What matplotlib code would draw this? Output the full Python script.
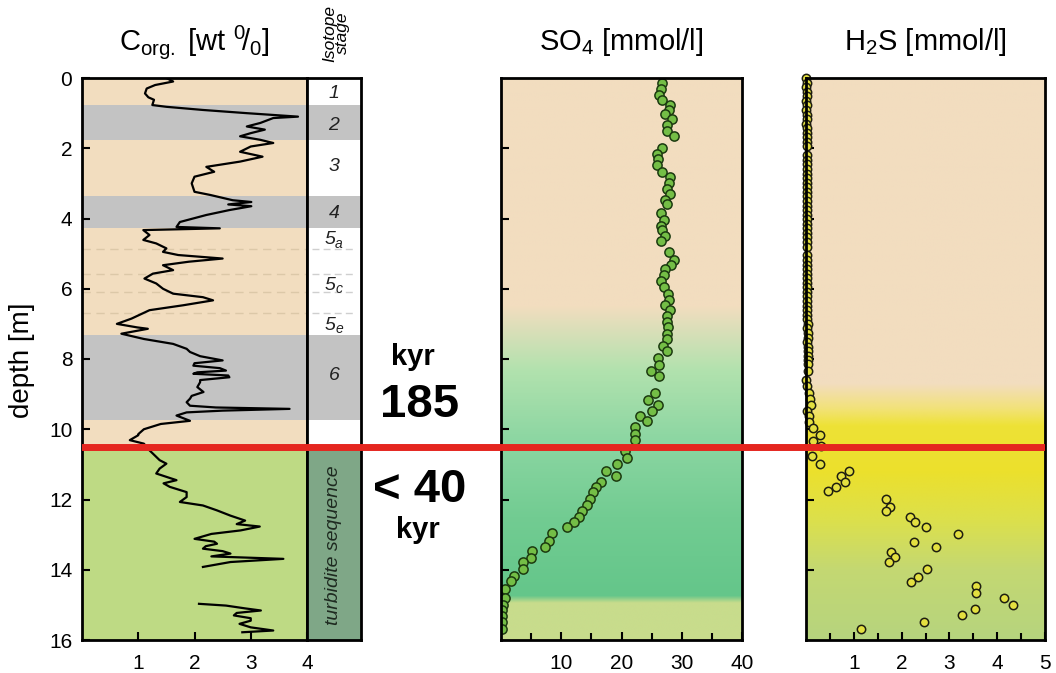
import matplotlib
matplotlib.use('Agg')
import matplotlib.pyplot as plt
import numpy as np

plt.rcParams['font.family'] = ['Liberation Sans', 'DejaVu Sans']
plt.rcParams['mathtext.fontset'] = 'custom'
plt.rcParams['mathtext.rm'] = 'Liberation Sans'
plt.rcParams['mathtext.it'] = 'Liberation Sans:italic'
plt.rcParams['mathtext.bf'] = 'Liberation Sans:bold'

# ---------------- data ----------------
corg_depth = [0.0, 0.1, 0.2, 0.3, 0.44, 0.55, 0.62, 0.77, 0.82, 0.91, 1.0, 1.1, 1.14, 1.28, 1.38, 1.47,
              1.57, 1.66, 1.76, 1.85, 1.95, 2.1, 2.24, 2.38, 2.53, 2.67, 2.81, 3.0, 3.24, 3.33, 3.48,
              3.53, 3.6, 3.65, 3.76, 3.9, 4.1, 4.24, 4.28, 4.33, 4.47, 4.61, 4.71, 4.85, 4.95, 5.04,
              5.14, 5.23, 5.33, 5.47, 5.57, 5.71, 5.85, 6.0, 6.14, 6.24, 6.33, 6.47, 6.61, 6.76, 6.85,
              7.0, 7.1, 7.14, 7.28, 7.43, 7.57, 7.71, 7.8, 7.92, 8.04, 8.12, 8.19, 8.26, 8.33, 8.38,
              8.42, 8.47, 8.52, 8.6, 8.66, 8.8, 8.94, 9.05, 9.13, 9.23, 9.33, 9.38, 9.42, 9.47, 9.52,
              9.61, 9.76, 9.85, 10.0, 10.14, 10.17, 10.31, 10.41, 10.6, 10.88, 10.98, 11.12, 11.26,
              11.45, 11.54, 11.64, 11.79, 11.93, 12.07, 12.17, 12.31, 12.46, 12.6, 12.7, 12.77, 12.88,
              12.98, 13.12, 13.2, 13.26, 13.33, 13.4, 13.47, 13.54, 13.62, 13.69, 13.78, 13.92,
              14.4,
              14.97, 15.02, 15.1, 15.16, 15.23, 15.3, 15.38, 15.45, 15.54, 15.64, 15.73, 15.78]
corg_value = [1.5, 1.62, 1.3, 1.15, 1.12, 1.18, 1.28, 1.25, 1.5, 2.15, 2.92, 3.84, 3.4, 3.17, 2.93, 3.25,
              3.0, 2.81, 3.17, 3.4, 3.0, 2.81, 3.21, 2.81, 2.21, 2.35, 2.0, 1.95, 2.0, 2.28, 2.68,
              3.01, 2.6, 3.01, 2.62, 2.21, 1.74, 1.68, 2.45, 1.09, 1.2, 1.09, 1.32, 1.5, 1.44, 1.71,
              2.5, 1.9, 1.44, 1.62, 1.26, 1.11, 1.32, 1.44, 1.62, 2.15, 2.33, 1.8, 1.2, 1.0, 0.88,
              0.62, 0.98, 1.17, 0.7, 1.1, 1.62, 1.86, 1.92, 2.1, 2.5, 2.0, 1.98, 2.45, 2.56, 2.05,
              1.98, 2.6, 2.62, 2.1, 2.1, 2.05, 2.16, 1.95, 1.92, 1.86, 1.92, 2.38, 3.69, 2.5, 1.86,
              1.68, 1.92, 1.4, 1.1, 1.0, 1.0, 0.85, 1.1, 1.2, 1.38, 1.5, 1.38, 1.32,
              1.68, 1.45, 1.56, 1.86, 1.86, 1.74, 2.15, 2.4, 2.64, 2.9, 2.75, 3.16, 2.82,
              2.3, 2.0, 2.35, 2.4, 2.2, 2.15, 2.5, 2.64, 2.3, 3.58, 2.64, 2.15,
              np.nan,
              2.08, 2.56, 2.9, 3.18, 2.75, 2.7, 3.0, 3.0, 2.8, 3.0, 3.4, 2.85]

so4_depth = [0.15, 0.32, 0.49, 0.63, 0.77, 0.91, 1.03, 1.18, 1.34, 1.5, 1.66, 1.98, 2.15, 2.32, 2.49,
             2.68, 2.82, 2.99, 3.15, 3.31, 3.47, 3.6, 3.85, 4.04, 4.2, 4.34, 4.49, 4.65, 4.96, 5.18,
             5.31, 5.44, 5.6, 5.77, 5.96, 6.15, 6.32, 6.46, 6.61, 6.77, 6.96, 7.1, 7.28, 7.44, 7.63,
             7.77, 7.96, 8.17, 8.34, 8.49, 8.96, 9.18, 9.32, 9.49, 9.63, 9.77, 9.94, 10.13, 10.32,
             10.63, 10.82, 10.99, 11.18, 11.34, 11.49, 11.63, 11.79, 11.98, 12.17, 12.32, 12.49,
             12.63, 12.77, 12.96, 13.17, 13.34, 13.47, 13.66, 13.77, 13.99, 14.18, 14.32, 14.56,
             14.8, 15.01, 15.15, 15.31, 15.49, 15.68]
so4_value = [26.8, 26.5, 26.2, 26.8, 28.05, 27.9, 27.2, 28.3, 27.5, 27.6, 28.7, 26.8, 25.9, 26.05, 25.9,
             26.8, 28.05, 27.9, 27.6, 28.05, 27.3, 27.6, 26.5, 27.05, 26.6, 26.8, 27.3, 26.5, 27.9, 28.7,
             28.2, 27.3, 27.05, 26.5, 27.05, 27.7, 27.9, 27.2, 28.05, 27.5, 27.6, 27.7, 27.6, 27.6, 26.9,
             27.6, 26.05, 26.2, 24.9, 26.3, 25.5, 24.4, 26.05, 25.1, 23.05, 24.3, 22.3, 22.3, 22.2,
             20.5, 20.9, 19.2, 17.5, 19.1, 16.6, 15.7, 15.3, 14.7, 14.2, 13.4, 12.9,
             12.05, 10.9, 8.4, 8.0, 7.3, 5.2, 4.9, 3.7, 3.6, 2.2, 1.6, 0.67,
             0.67, 0.4, 0.1, 0.1, 0.1, 0.2]

h2s_depth = [0.0, 0.13, 0.26, 0.39, 0.52, 0.65, 0.78, 0.91, 1.04, 1.17, 1.3, 1.43, 1.56, 1.69, 1.82,
             1.95, 2.2, 2.33, 2.46, 2.59, 2.72, 2.85, 2.98, 3.11, 3.24, 3.37, 3.5, 3.63, 3.76, 3.89,
             4.02, 4.15, 4.28, 4.41, 4.54, 4.67, 4.8, 5.05, 5.18, 5.31, 5.44, 5.57, 5.7, 5.83, 5.96,
             6.09, 6.22, 6.35, 6.48, 6.61, 6.74, 6.87, 7.0, 7.13, 7.26, 7.39, 7.52, 7.65, 7.78, 7.91,
             8.04, 8.15, 8.34, 8.61, 8.77, 8.98, 9.15, 9.31, 9.47, 9.63, 9.8, 9.96, 10.17, 10.34,
             10.49, 10.77, 10.99, 11.18, 11.34, 11.49, 11.63, 11.77, 11.98, 12.2, 12.34, 12.5, 12.65,
             12.79, 12.99, 13.2, 13.34, 13.49, 13.63, 13.77, 13.98, 14.2, 14.34, 14.47, 14.66, 14.8,
             14.99, 15.12, 15.3, 15.49, 15.69]
h2s_value = [0.01, 0.02, 0.01, 0.02, 0.02, 0.01, 0.02, 0.01, 0.02, 0.02, 0.01, 0.02, 0.02, 0.03, 0.02,
             0.02, 0.02, 0.03, 0.02, 0.03, 0.03, 0.02, 0.03, 0.02, 0.03, 0.03, 0.02, 0.03, 0.03, 0.02,
             0.03, 0.03, 0.02, 0.03, 0.03, 0.02, 0.03, 0.02, 0.03, 0.02, 0.03, 0.03, 0.02, 0.03, 0.03,
             0.02, 0.03, 0.03, 0.02, 0.03, 0.03, 0.03, 0.04, 0.03, 0.04, 0.04, 0.03, 0.04, 0.05, 0.04,
             0.05, 0.05, 0.05, 0.0, 0.03, 0.07, 0.08, 0.1, 0.03, 0.07, 0.06, 0.15, 0.29, 0.15,
             0.31, 0.13, 0.29, 0.9, 0.73, 0.81, 0.63, 0.47, 1.67, 1.75, 1.67, 2.18, 2.27,
             2.5, 3.19, 2.26, 2.71, 1.77, 1.86, 1.73, 2.53, 2.34, 2.19, 3.56, 3.56, 4.15,
             4.34, 3.54, 3.26, 2.46, 1.15]

glacial_bands = [(0.77, 1.77), (3.36, 4.27), (7.32, 9.74)]
substage_lines = [4.87, 5.58, 6.1, 6.7]
stage_numbers = ['1', '2', '3', '4', '5', '5', '5', '6']
stage_subs = ['', '', '', '', 'a', 'c', 'e', '']
stage_depths = [0.43, 1.34, 2.53, 3.85, 4.61, 5.9, 7.04, 8.46]
boundary_depth = 10.5

# ---------------- colours ----------------
BEIGE = '#F2DDBF'
GRAY = '#C3C3C3'
LGREEN = '#BEDA84'
TURB = '#7FA787'
RED = '#E5261F'

W, H = 1056, 673
fig = plt.figure(figsize=(W / 100, H / 100), dpi=100)

def fx(px):
    return px / W

def fy(py):
    return 1 - py / H

top, bot = 78, 640
ax_b, ax_h = fy(bot), fy(top) - fy(bot)

ax1 = fig.add_axes([fx(82), ax_b, fx(307) - fx(82), ax_h])
axi = fig.add_axes([fx(307), ax_b, fx(361) - fx(307), ax_h])
ax2 = fig.add_axes([fx(501), ax_b, fx(742) - fx(501), ax_h])
ax3 = fig.add_axes([fx(806), ax_b, fx(1045) - fx(806), ax_h])


def gradient(ax, stops, x0, x1):
    d = np.linspace(0, 16, 600)
    sd = [s[0] for s in stops]
    cols = np.array([matplotlib.colors.to_rgb(s[1]) for s in stops])
    img = np.stack([np.interp(d, sd, cols[:, i]) for i in range(3)], axis=-1)[:, None, :]
    ax.imshow(img, extent=[x0, x1, 16, 0], aspect='auto', origin='upper', zorder=0,
              interpolation='bilinear')


TICKSIZE = 15
TITLESIZE = 21

# ---- Corg panel ----
ax1.axhspan(0, boundary_depth, color=BEIGE, zorder=0, lw=0)
ax1.axhspan(boundary_depth, 16, color=LGREEN, zorder=0, lw=0)
for a, b in glacial_bands:
    ax1.axhspan(a, b, color=GRAY, zorder=0.5, lw=0)
for d in substage_lines:
    ax1.axhline(d, color='#DCC8A8', lw=1.0, ls=(0, (6, 4)), zorder=0.6)
ax1.plot(corg_value, corg_depth, color='black', lw=1.6, zorder=3)
ax1.set_xlim(0, 4)
ax1.set_ylim(16, 0)
ax1.set_xticks([1, 2, 3, 4])
ax1.set_yticks(range(0, 17, 2))
ax1.tick_params(direction='in', length=6, width=1.5, labelsize=TICKSIZE, pad=7)
ax1.tick_params(axis='x', pad=10)
ax1.text(0.5, 1.064, r'C$_{\rm org.}$ [wt $^0\!/_0$]', transform=ax1.transAxes,
         ha='center', va='center', fontsize=TITLESIZE)

# ---- isotope column ----
axi.axhspan(0, boundary_depth, color='white', zorder=0, lw=0)
axi.axhspan(boundary_depth, 16, color=TURB, zorder=0, lw=0)
for a, b in glacial_bands:
    axi.axhspan(a, b, color=GRAY, zorder=0.5, lw=0)
for d in substage_lines:
    axi.axhline(d, xmin=0.1, xmax=0.9, color='#CFCFCF', lw=1.0, ls=(0, (5, 3)), zorder=0.6)
axi.set_xlim(0, 1)
axi.set_ylim(16, 0)
axi.set_xticks([])
axi.set_yticks([])
for num, sub, d in zip(stage_numbers, stage_subs, stage_depths):
    if sub:
        axi.text(0.52, d, num, ha='right', va='center', fontsize=14, style='italic', color='#222222')
        axi.text(0.52, d + 0.12, sub, ha='left', va='center', fontsize=10, style='italic',
                 color='#222222')
    else:
        axi.text(0.5, d, num, ha='center', va='center', fontsize=14, style='italic', color='#222222')
axi.text(0.5, 13.3, 'turbidite sequence', rotation=90, ha='center', va='center',
         fontsize=14, style='italic', color='#1E2A20')
fig.text(fx(336), fy(33), 'Isotope\nstage', rotation=90, ha='center', va='center',
         fontsize=12.5, style='italic', linespacing=0.85)

# ---- SO4 panel ----
gradient(ax2, [(0, BEIGE), (6.5, BEIGE), (8.3, '#B2E2AE'), (10.3, '#8CD6A2'), (12.5, '#72CC92'),
               (14.75, '#64C68A'), (14.95, '#C8DC8C'), (16, '#C8DC8C')], 0, 40)
ax2.scatter(so4_value, so4_depth, s=44, facecolor='#74BE46', edgecolor='#1C3A10', lw=1.1, zorder=3)
ax2.set_xlim(0, 40)
ax2.set_ylim(16, 0)
ax2.set_xticks([10, 20, 30, 40])
ax2.set_xticks([5, 15, 25, 35], minor=True)
ax2.set_yticks(range(2, 16, 2))
ax2.tick_params(direction='in', length=6, width=1.5, labelsize=TICKSIZE, labelleft=False)
ax2.tick_params(axis='x', pad=10)
ax2.tick_params(which='minor', direction='in', length=5, width=1.5)
ax2.text(0.5, 1.064, r'SO$_4$ [mmol/l]', transform=ax2.transAxes,
         ha='center', va='center', fontsize=TITLESIZE)

# ---- H2S panel ----
gradient(ax3, [(0, BEIGE), (8.7, BEIGE), (9.4, '#F2E27A'), (9.9, '#EEE236'), (11.2, '#ECE02C'),
               (12.6, '#DCE04C'), (14.0, '#C4D872'), (16, '#B6D47E')], 0, 5)
ax3.scatter(h2s_value, h2s_depth, s=36, facecolor='#E4E040', edgecolor='#1E1E10', lw=1.1,
            zorder=3, clip_on=False)
ax3.set_xlim(0, 5)
ax3.set_ylim(16, 0)
ax3.set_xticks([1, 2, 3, 4, 5])
ax3.set_xticks([0.5, 1.5, 2.5, 3.5, 4.5], minor=True)
ax3.set_yticks(range(2, 16, 2))
ax3.tick_params(direction='in', length=6, width=1.5, labelsize=TICKSIZE, labelleft=False)
ax3.tick_params(axis='x', pad=10)
ax3.tick_params(which='minor', direction='in', length=5, width=1.5)
ax3.text(0.5, 1.064, r'H$_2$S [mmol/l]', transform=ax3.transAxes,
         ha='center', va='center', fontsize=TITLESIZE)

for ax in (ax1, axi, ax2, ax3):
    for sp in ax.spines.values():
        sp.set_linewidth(2.0)
        sp.set_zorder(5)

# ---- boundary line across all panels ----
axo = fig.add_axes([fx(82), ax_b, fx(1045) - fx(82), ax_h], facecolor='none')
axo.set_ylim(16, 0)
axo.set_xlim(0, 1)
axo.axis('off')
axo.axhline(boundary_depth, color=RED, lw=5, zorder=10)

fig.text(fx(413), fy(357), 'kyr', ha='center', va='center', fontsize=21, fontweight='bold')
fig.text(fx(420), fy(405), '185', ha='center', va='center', fontsize=34, fontweight='bold')
fig.text(fx(420), fy(490), '< 40', ha='center', va='center', fontsize=34, fontweight='bold')
fig.text(fx(418), fy(530), 'kyr', ha='center', va='center', fontsize=21, fontweight='bold')

fig.text(fx(22), fy(360), 'depth [m]', rotation=90, ha='center', va='center', fontsize=20)

fig.savefig('out.png', dpi=100)
